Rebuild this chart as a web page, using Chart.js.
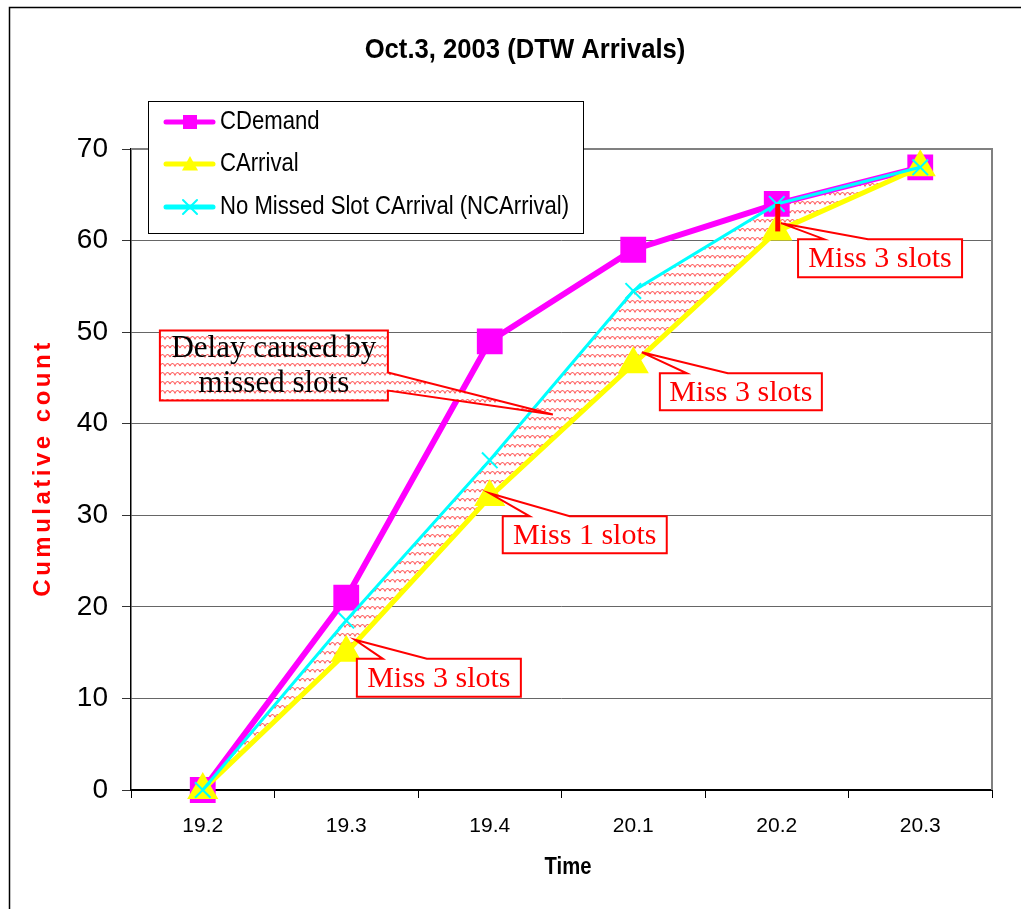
<!DOCTYPE html>
<html>
<head>
<meta charset="utf-8">
<script src="https://cdn.jsdelivr.net/npm/chart.js@4.4.1/dist/chart.umd.min.js"></script>
<style>
  html, body { margin: 0; padding: 0; background: #fff; }
  #wrap { width: 1021px; height: 909px; }
</style>
</head>
<body>
<div id="wrap"><canvas id="arrivals"></canvas></div>
<script>
// cumulative counts per time slot
var times = ['19.2', '19.3', '19.4', '20.1', '20.2', '20.3'];
var cDemand = [0, 21, 49, 59, 64, 68];
var cArrival = [0, 15, 32, 46.5, 61, 68];
var ncArrival = [0, 18.5, 36, 54.5, 64, 68];
var yTicks = [0, 10, 20, 30, 40, 50, 60, 70];
var seriesNames = ['CDemand', 'CArrival', 'No Missed Slot CArrival (NCArrival)'];

var SANS = "'Liberation Sans', Arial, sans-serif";
var SERIF = "'Liberation Serif', 'Times New Roman', serif";

// callout boxes: tip is [category index, count], box is [dx, dy, w, h] from the tip in px
var callouts = [
  { lines: ['Delay caused by', 'missed slots'], tip: [2.44, 41], box: [-393, -84, 228, 70], side: 'right', base: [42, 60], color: '#000', size: 31, hatched: true },
  { lines: ['Miss 3 slots'], tip: [4.03, 61.9], box: [17, 16, 164, 38], side: 'top', base: [26, 70], color: '#f00', size: 30 },
  { lines: ['Miss 3 slots'], tip: [3.06, 47.8], box: [18, 21, 162, 37], side: 'top', base: [27, 68], color: '#f00', size: 30 },
  { lines: ['Miss 1 slots'], tip: [2.0, 32.4], box: [13, 23, 164, 37], side: 'top', base: [27, 67], color: '#f00', size: 30 },
  { lines: ['Miss 3 slots'], tip: [1.06, 16.4], box: [2, 19, 164, 38], side: 'top', base: [26, 70], color: '#f00', size: 30 }
];

// red wavy hatch used for the delay band
function wavyPattern() {
  var c = document.createElement('canvas');
  c.width = 10; c.height = 9;
  var g = c.getContext('2d');
  g.fillStyle = '#fff';
  g.fillRect(0, 0, 10, 9);
  g.strokeStyle = 'rgba(255,50,50,0.8)';
  g.lineWidth = 1.1;
  g.beginPath();
  g.moveTo(0, 6);
  g.quadraticCurveTo(2.5, 1, 5, 6);
  g.quadraticCurveTo(7.5, 1, 10, 6);
  g.stroke();
  return g.createPattern(c, 'repeat');
}
var wavy = wavyPattern();

// text squeezed horizontally, like the narrow face of the original
function narrowText(ctx, text, x, y, sx) {
  ctx.save();
  ctx.translate(x, y);
  ctx.scale(sx, 1);
  ctx.fillText(text, 0, 0);
  ctx.restore();
}

function marker(ctx, style, x, y, r, color) {
  ctx.save();
  ctx.fillStyle = color;
  ctx.strokeStyle = color;
  ctx.beginPath();
  if (style === 'rect') {
    ctx.rect(x - r, y - r, 2 * r, 2 * r);
    ctx.fill();
  } else if (style === 'triangle') {
    ctx.moveTo(x, y - r);
    ctx.lineTo(x + r, y + r * 0.8);
    ctx.lineTo(x - r, y + r * 0.8);
    ctx.closePath();
    ctx.fill();
  } else {
    ctx.lineWidth = 2;
    ctx.moveTo(x - r, y - r); ctx.lineTo(x + r, y + r);
    ctx.moveTo(x + r, y - r); ctx.lineTo(x - r, y + r);
    ctx.stroke();
  }
  ctx.restore();
}

function drawCallout(ctx, chart, c) {
  var xs = chart.scales.x, ys = chart.scales.y;
  var tx = xs.getPixelForValue(c.tip[0]), ty = ys.getPixelForValue(c.tip[1]);
  var L = tx + c.box[0], T = ty + c.box[1], W = c.box[2], H = c.box[3];
  ctx.save();
  ctx.beginPath();
  ctx.moveTo(L, T);
  if (c.side === 'top') {
    ctx.lineTo(L + c.base[0], T);
    ctx.lineTo(tx, ty);
    ctx.lineTo(L + c.base[1], T);
    ctx.lineTo(L + W, T);
    ctx.lineTo(L + W, T + H);
  } else {
    ctx.lineTo(L + W, T);
    ctx.lineTo(L + W, T + c.base[0]);
    ctx.lineTo(tx, ty);
    ctx.lineTo(L + W, T + c.base[1]);
    ctx.lineTo(L + W, T + H);
  }
  ctx.lineTo(L, T + H);
  ctx.closePath();
  ctx.fillStyle = c.hatched ? wavy : '#fff';
  ctx.fill();
  ctx.strokeStyle = '#f00';
  ctx.lineWidth = 2;
  ctx.lineJoin = 'miter';
  ctx.stroke();

  ctx.fillStyle = c.color;
  ctx.font = c.size + 'px ' + SERIF;
  ctx.textAlign = 'center';
  ctx.textBaseline = 'middle';
  var step = H / c.lines.length;
  c.lines.forEach(function (t, i) {
    ctx.fillText(t, L + W / 2, T + step * (i + 0.5) + 1);
  });
  ctx.restore();
}

var decor = {
  id: 'decor',
  beforeDraw: function (chart) {
    var ctx = chart.ctx;
    ctx.save();
    ctx.fillStyle = '#fff';
    ctx.fillRect(0, 0, chart.width, chart.height);
    // outer frame
    ctx.strokeStyle = '#000';
    ctx.lineWidth = 1.5;
    ctx.beginPath();
    ctx.moveTo(9.5, chart.height);
    ctx.lineTo(9.5, 7.5);
    ctx.lineTo(chart.width, 7.5);
    ctx.stroke();

    ctx.fillStyle = '#000';
    ctx.textAlign = 'center';
    ctx.textBaseline = 'middle';
    ctx.font = 'bold 27px ' + SANS;
    narrowText(ctx, 'Oct.3, 2003 (DTW Arrivals)', 525, 51, 0.95);
    ctx.font = 'bold 23px ' + SANS;
    narrowText(ctx, 'Time', 568, 868, 0.88);

    ctx.translate(43, 468);
    ctx.rotate(-Math.PI / 2);
    ctx.fillStyle = '#f00';
    ctx.font = 'bold 24px ' + SANS;
    ctx.letterSpacing = '3.5px';
    ctx.fillText('Cumulative count', 0, 0);
    ctx.restore();
  },
  afterDraw: function (chart) {
    var ctx = chart.ctx, a = chart.chartArea;
    var xs = chart.scales.x, ys = chart.scales.y;
    ctx.save();
    // plot frame top and right
    ctx.strokeStyle = '#808080';
    ctx.lineWidth = 2;
    ctx.beginPath();
    ctx.moveTo(a.left, a.top);
    ctx.lineTo(a.right, a.top);
    ctx.lineTo(a.right, a.bottom);
    ctx.stroke();

    // missed slots gap at 20.2
    ctx.strokeStyle = '#f00';
    ctx.lineWidth = 5;
    ctx.beginPath();
    ctx.moveTo(xs.getPixelForValue(4) + 1, ys.getPixelForValue(ncArrival[4]));
    ctx.lineTo(xs.getPixelForValue(4) + 1, ys.getPixelForValue(cArrival[4]));
    ctx.stroke();
    ctx.restore();

    callouts.forEach(function (c) { drawCallout(ctx, chart, c); });

    // legend box
    ctx.save();
    ctx.fillStyle = '#fff';
    ctx.fillRect(148, 101, 435, 132);
    ctx.strokeStyle = '#000';
    ctx.lineWidth = 1;
    ctx.strokeRect(148.5, 101.5, 435, 132);
    var rows = [122, 164, 207];
    var styles = ['rect', 'triangle', 'cross'];
    var colors = ['#ff00ff', '#ffff00', '#00ffff'];
    var sizes = [7, 8, 7];
    rows.forEach(function (y, i) {
      ctx.strokeStyle = colors[i];
      ctx.lineWidth = 5;
      ctx.lineCap = 'round';
      ctx.beginPath();
      ctx.moveTo(166, y);
      ctx.lineTo(213, y);
      ctx.stroke();
      marker(ctx, styles[i], 190, y, sizes[i], colors[i]);
      ctx.fillStyle = '#000';
      ctx.font = '25px ' + SANS;
      ctx.textAlign = 'left';
      ctx.textBaseline = 'middle';
      narrowText(ctx, seriesNames[i], 220, y, 0.885);
    });
    ctx.restore();
  }
};

var chart = new Chart(document.getElementById('arrivals'), {
  type: 'line',
  data: {
    labels: times,
    datasets: [
      {
        label: seriesNames[0],
        data: cDemand,
        borderColor: '#ff00ff',
        backgroundColor: '#ff00ff',
        borderWidth: 6,
        pointStyle: 'rect',
        pointRadius: 14,
        fill: false,
        clip: false,
        order: 3
      },
      {
        label: seriesNames[1],
        data: cArrival,
        borderColor: '#ffff00',
        backgroundColor: '#ffff00',
        borderWidth: 5,
        pointStyle: 'triangle',
        pointRadius: 13,
        fill: false,
        clip: false,
        order: 2
      },
      {
        label: seriesNames[2],
        data: ncArrival,
        borderColor: '#00ffff',
        backgroundColor: wavy,
        pointBackgroundColor: '#00ffff',
        pointBorderColor: '#00ffff',
        borderWidth: 3,
        pointStyle: 'crossRot',
        pointRadius: 11,
        pointBorderWidth: 2,
        fill: 1,
        clip: false,
        order: 1
      }
    ]
  },
  options: {
    responsive: true,
    maintainAspectRatio: false,
    animation: false,
    layout: { padding: { top: 149, right: 29, left: 0, bottom: 0 } },
    plugins: {
      legend: { display: false },
      title: { display: false },
      tooltip: { enabled: false },
      filler: { drawTime: 'beforeDatasetsDraw' }
    },
    scales: {
      x: {
        offset: true,
        grid: { offset: true, drawOnChartArea: false, tickLength: 8, color: '#000' },
        border: { color: '#000', width: 2 },
        ticks: { color: '#000', font: { family: SANS, size: 21 }, padding: 16, maxRotation: 0 },
        afterFit: function (s) { s.height = 119; }
      },
      y: {
        min: 0,
        max: 70,
        afterBuildTicks: function (s) { s.ticks = yTicks.map(function (v) { return { value: v }; }); },
        grid: { color: '#666', tickColor: '#333', tickLength: 9 },
        border: { color: '#000', width: 1.5 },
        ticks: { color: '#000', font: { family: SANS, size: 28 }, padding: 14 },
        afterFit: function (s) { s.width = 131; }
      }
    }
  },
  plugins: [decor]
});
</script>
</body>
</html>
